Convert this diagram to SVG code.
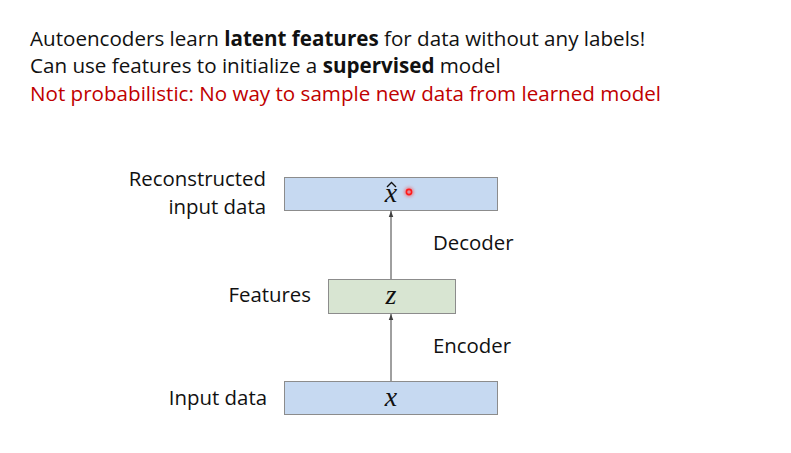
<svg xmlns="http://www.w3.org/2000/svg" width="791" height="453" viewBox="0 0 791 453">
  <style>
    .body { font-family: "Open Sans", "Liberation Sans", sans-serif; font-size: 20.6px; fill: #111; }
    .red { fill: #c00000; }
    .b { font-weight: bold; }
    .lbl { font-family: "Open Sans", "Liberation Sans", sans-serif; font-size: 20.4px; fill: #111; }
    .math { font-family: "Liberation Serif", "DejaVu Serif", serif; font-style: italic; font-size: 28px; fill: #111; }
    .blue { fill: #c6d9f1; stroke: #8c8c8c; stroke-width: 1; }
    .green { fill: #d8e5d2; stroke: #8c8c8c; stroke-width: 1; }
    .conn { stroke: #404040; stroke-width: 1; fill: none; }
  </style>
  <defs>
    <marker id="arr" viewBox="0 0 8 8" refX="8" refY="4" markerWidth="6" markerHeight="6" orient="auto">
      <path d="M0,1 L8,4 L0,7 z" fill="#404040"/>
    </marker>
    <filter id="glow" x="-100%" y="-100%" width="300%" height="300%">
      <feGaussianBlur stdDeviation="1.5"/>
    </filter>
  </defs>
  <rect width="791" height="453" fill="#ffffff"/>

  <!-- bullet text -->
  <text class="body" x="30" y="46">Autoencoders learn <tspan class="b">latent features</tspan> for data without any labels!</text>
  <text class="body" x="30" y="73">Can use features to initialize a <tspan class="b">supervised</tspan> model</text>
  <text class="body red" x="30" y="101">Not probabilistic: No way to sample new data from learned model</text>

  <!-- connectors -->
  <g id="connectors">
    <line class="conn" x1="391" y1="381" x2="391" y2="314" marker-end="url(#arr)"/>
    <line class="conn" x1="391" y1="279" x2="391" y2="211" marker-end="url(#arr)"/>
  </g>

  <g id="reconstructed">
    <rect class="blue" x="284.5" y="177.5" width="213" height="33"/>
    <text class="math" x="391" y="202" text-anchor="middle">x</text>
    <!-- hat accent -->
    <polyline points="387,187 391.5,182.5 396,187" fill="none" stroke="#111" stroke-width="1.3"/>
    <text class="lbl" x="266" y="186" text-anchor="end">Reconstructed</text>
    <text class="lbl" x="266" y="214" text-anchor="end">input data</text>
  </g>

  <g id="features">
    <rect class="green" x="328.5" y="279.5" width="127" height="34"/>
    <text class="math" x="391" y="304" text-anchor="middle">z</text>
    <text class="lbl" x="311" y="302" text-anchor="end">Features</text>
  </g>

  <g id="input">
    <rect class="blue" x="284.5" y="381.5" width="213" height="33"/>
    <text class="math" x="391" y="406" text-anchor="middle">x</text>
    <text class="lbl" x="267" y="405" text-anchor="end">Input data</text>
  </g>

  <g id="edge-labels">
    <text class="lbl" x="433" y="250">Decoder</text>
    <text class="lbl" x="433" y="353">Encoder</text>
  </g>

  <!-- pointer dot -->
  <g id="pointer">
    <circle cx="409" cy="192" r="5" fill="#ff3030" opacity="0.45" filter="url(#glow)"/>
    <circle cx="409" cy="192" r="2.6" fill="none" stroke="#ff1a1a" stroke-width="1.6"/>
  </g>
</svg>
